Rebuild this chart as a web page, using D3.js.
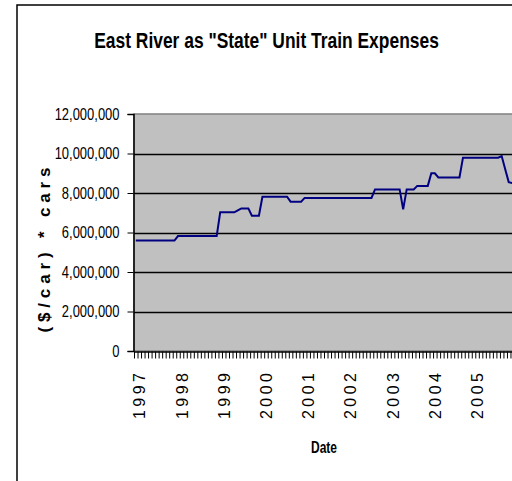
<!DOCTYPE html>
<html>
<head>
<meta charset="utf-8">
<script src="https://cdn.jsdelivr.net/npm/d3@7"></script>
<style>
    body { margin: 0; background: #fff; }
    text { font-family: "Liberation Sans Narrow", "Arial Narrow", "Liberation Sans", Arial, sans-serif; }
</style>
</head>
<body>
<script>
// monthly expenses, one row per year
var expenses = [
    5590000, 5590000, 5590000, 5590000, 5590000, 5590000, 5590000, 5590000, 5590000, 5590000, 5590000, 5590000,
    5820000, 5820000, 5820000, 5820000, 5820000, 5820000, 5820000, 5820000, 5820000, 5820000, 5820000, 5820000,
    7020000, 7020000, 7020000, 7020000, 7020000, 7120000, 7220000, 7220000, 7220000, 6850000, 6850000, 6850000,
    7810000, 7810000, 7810000, 7810000, 7810000, 7810000, 7810000, 7810000, 7560000, 7560000, 7560000, 7560000,
    7750000, 7750000, 7750000, 7750000, 7750000, 7750000, 7750000, 7750000, 7750000, 7750000, 7750000, 7750000,
    7750000, 7750000, 7750000, 7750000, 7750000, 7750000, 7750000, 7750000, 8180000, 8180000, 8180000, 8180000,
    8180000, 8180000, 8180000, 8180000, 7170000, 8180000, 8180000, 8180000, 8360000, 8360000, 8360000, 8360000,
    9000000, 9000000, 8790000, 8790000, 8790000, 8790000, 8790000, 8790000, 8790000, 9790000, 9790000, 9790000,
    9790000, 9790000, 9790000, 9790000, 9790000, 9790000, 9790000, 9790000, 9870000, 9200000, 8550000, 8500000
];
var yearLabels = ['1997', '1998', '1999', '2000', '2001', '2002', '2003', '2004', '2005'];
var yTicks = [0, 2000000, 4000000, 6000000, 8000000, 10000000, 12000000];

var months = d3.timeMonth.range(new Date(1997, 0, 1), new Date(2006, 0, 1));

var width = 512, height = 481;
var plot = {left: 134, top: 114, right: 514, bottom: 351};

// no narrow font installed, so squeeze the regular one
function squeeze(sel, k) {
    sel.each(function() {
        var w = this.getComputedTextLength();
        d3.select(this).attr('textLength', w * k).attr('lengthAdjust', 'spacingAndGlyphs');
    });
}

var svg = d3.select('body').append('svg')
    .attr('width', width)
    .attr('height', height);

svg.append('rect')
    .attr('width', width).attr('height', height)
    .attr('fill', '#fff');

// chart frame (runs off the right and bottom)
svg.append('rect')
    .attr('x', 17).attr('y', 5)
    .attr('width', 600).attr('height', 600)
    .attr('fill', 'none')
    .attr('stroke', '#000')
    .attr('stroke-width', 1.5);

var x = d3.scaleLinear().domain([0, months.length]).range([plot.left, plot.right]);
var y = d3.scaleLinear().domain([0, 12000000]).range([plot.bottom, plot.top]);

// plot area
svg.append('rect')
    .attr('x', plot.left).attr('y', plot.top)
    .attr('width', plot.right - plot.left).attr('height', plot.bottom - plot.top)
    .attr('fill', '#c0c0c0')
    .attr('stroke', '#808080')
    .attr('stroke-width', 1.5);

// gridlines
svg.append('g')
    .selectAll('line')
    .data(yTicks.slice(1, -1))
    .enter().append('line')
    .attr('x1', plot.left).attr('x2', plot.right)
    .attr('y1', function(d) { return Math.round(y(d)) + 0.5; })
    .attr('y2', function(d) { return Math.round(y(d)) + 0.5; })
    .attr('stroke', '#000')
    .attr('stroke-width', 1.3);

// y axis
var yAxis = d3.axisLeft(y)
    .tickValues(yTicks)
    .tickFormat(d3.format(','))
    .tickSize(6)
    .tickPadding(8);

var gy = svg.append('g')
    .attr('transform', 'translate(' + (plot.left - 0.5) + ',0)')
    .call(yAxis);
gy.select('.domain').attr('stroke', '#000').attr('stroke-width', 1.5);
gy.selectAll('.tick line').attr('stroke', '#000');
gy.selectAll('.tick text').attr('font-size', 16).attr('fill', '#000').call(squeeze, 0.81);

// x axis: one tick between every month
var xAxis = d3.axisBottom(x)
    .tickValues(d3.range(0, months.length + 1))
    .tickFormat('')
    .tickSize(7)
    .tickSizeOuter(0);

var gx = svg.append('g')
    .attr('transform', 'translate(0,' + (plot.bottom + 0.5) + ')')
    .call(xAxis);
gx.select('.domain').attr('stroke', '#000').attr('stroke-width', 1.5);
gx.selectAll('.tick line').attr('stroke', '#000');

// year labels on each january
var janIdx = [];
months.forEach(function(m, i) { if (m.getMonth() === 0) janIdx.push(i); });

svg.append('g')
    .selectAll('text')
    .data(yearLabels)
    .enter().append('text')
    .attr('transform', function(d, i) {
        return 'translate(' + (x(janIdx[i] + 0.5) + 4) + ',373) rotate(-90)';
    })
    .attr('text-anchor', 'end')
    .attr('dy', '0.35em')
    .attr('font-size', 16)
    .attr('textLength', 46)
    .attr('lengthAdjust', 'spacing')
    .text(function(d) { return d; });

// the line
var line = d3.line()
    .x(function(d, i) { return x(i + 0.5); })
    .y(function(d) { return y(d); });

svg.append('path')
    .datum(expenses)
    .attr('d', line)
    .attr('fill', 'none')
    .attr('stroke', '#000080')
    .attr('stroke-width', 2);

// titles
var title = svg.append('text')
    .attr('text-anchor', 'middle')
    .attr('font-size', 22)
    .attr('font-weight', 'bold')
    .text('East River as "State" Unit Train Expenses');
var tk = 345 / title.node().getComputedTextLength();
title.attr('transform', 'translate(266.5,48) scale(' + tk + ',1)');

svg.append('text')
    .attr('x', (plot.left + plot.right) / 2).attr('y', 453)
    .attr('text-anchor', 'middle')
    .attr('font-size', 17)
    .attr('font-weight', 'bold')
    .attr('textLength', 26)
    .attr('lengthAdjust', 'spacingAndGlyphs')
    .text('Date');

svg.append('text')
    .attr('transform', 'translate(50,250) rotate(-90)')
    .attr('text-anchor', 'middle')
    .attr('font-size', 17)
    .attr('font-weight', 'bold')
    .attr('textLength', 165)
    .attr('lengthAdjust', 'spacing')
    .text('($/car) * cars');
</script>
</body>
</html>
